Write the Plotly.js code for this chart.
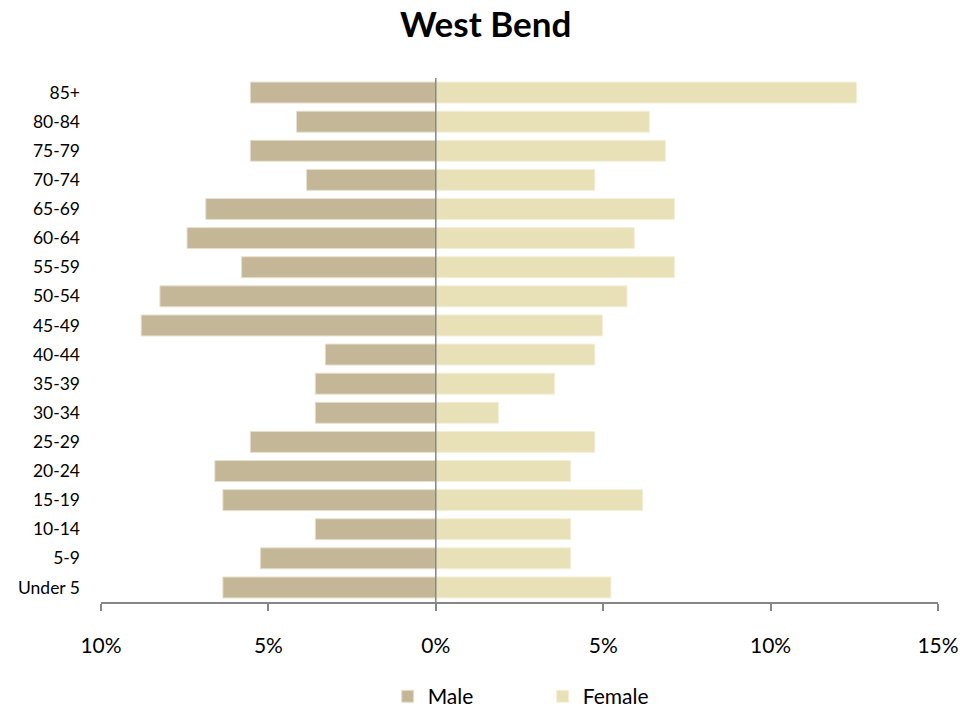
<!DOCTYPE html>
<html>
<head>
<meta charset="utf-8">
<script src="https://cdn.plot.ly/plotly-3.0.1.min.js"></script>
<style>html,body{margin:0;padding:0;background:#fff;}#chart{width:979px;height:713px;}</style>
</head>
<body>
<div id="chart"></div>
<script>
const ageGroups = ["Under 5","5-9","10-14","15-19","20-24","25-29","30-34","35-39","40-44","45-49","50-54","55-59","60-64","65-69","70-74","75-79","80-84","85+"];
const malePct   = [6.36, 5.24, 3.60, 6.36, 6.60, 5.54, 3.60, 3.60, 3.30, 8.80, 8.24, 5.80, 7.43, 6.87, 3.86, 5.54, 4.16, 5.54];
const femalePct = [5.23, 4.03, 4.03, 6.18, 4.03, 4.75, 1.87, 3.55, 4.75, 4.98, 5.71, 7.13, 5.93, 7.13, 4.75, 6.86, 6.38, 12.57];
const tickVals  = [-10, -5, 0, 5, 10, 15];
const tickText  = ["10%", "5%", "0%", "5%", "10%", "15%"];

const font = "Lato, 'Open Sans', sans-serif";

const traces = [
  {
    type: "bar", orientation: "h", name: "Male",
    y: ageGroups, x: malePct.map(v => -v),
    marker: {color: "#C4B797", line: {color: "#E6E0CF", width: 1}},
    hoverinfo: "skip"
  },
  {
    type: "bar", orientation: "h", name: "Female",
    y: ageGroups, x: femalePct,
    marker: {color: "#E8E1B8", line: {color: "#F3EFD8", width: 1}},
    hoverinfo: "skip"
  }
];

const layout = {
  width: 979, height: 713,
  margin: {l: 101, r: 41, t: 78, b: 111, autoexpand: false},
  paper_bgcolor: "#fff", plot_bgcolor: "#fff",
  font: {family: font, color: "#000"},
  title: {text: "<b>West Bend</b>", x: 0.496, xanchor: "center", xref: "container",
          y: 0.965, yanchor: "middle", yref: "container",
          font: {family: font, size: 35, color: "#000"}},
  barmode: "relative",
  bargap: 0.28,
  showlegend: true,
  legend: {orientation: "h", xref: "container", yref: "container",
           x: 0.396, xanchor: "left", y: 0.023, yanchor: "middle",
           font: {family: font, size: 21, color: "#000"}, itemwidth: 30, entrywidth: 110,
           traceorder: "normal"},
  xaxis: {
    range: [-10, 15], tickvals: tickVals, ticktext: tickText,
    showgrid: false, zeroline: false,
    showline: true, linecolor: "#868686", linewidth: 2,
    ticks: "outside", ticklen: 7, tickcolor: "#868686", tickwidth: 2,
    tickfont: {family: font, size: 21, color: "#000"},
    ticklabelstandoff: 17,
    fixedrange: true
  },
  yaxis: {
    type: "category", categoryorder: "array", categoryarray: ageGroups,
    showgrid: false, zeroline: false, showline: false,
    ticks: "", tickfont: {family: font, size: 17.5, color: "#000"},
    ticklabelstandoff: 20,
    fixedrange: true
  },
  shapes: [
    {type: "line", xref: "x", yref: "paper", x0: 0, x1: 0, y0: 0, y1: 1,
     line: {color: "#868686", width: 1.5}}
  ]
};

Plotly.newPlot("chart", traces, layout, {displayModeBar: false, staticPlot: true});
</script>
</body>
</html>
